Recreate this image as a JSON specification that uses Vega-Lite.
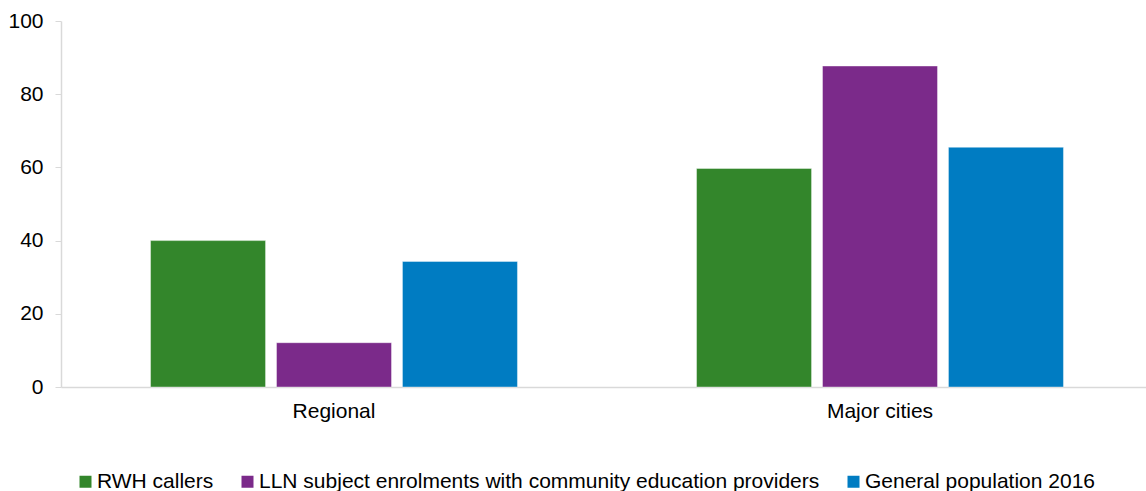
{
  "$schema": "https://vega.github.io/schema/vega-lite/v6.json",
  "autosize": {"type": "none"},
  "padding": {"left": 61, "top": 21, "right": 0, "bottom": 104},
  "width": 1092,
  "height": 366,
  "config": {
    "font": "Liberation Sans",
    "view": {"stroke": null},
    "axis": {"labelFont": "Liberation Sans", "labelColor": "#000000", "labelFontSize": 21, "grid": false, "domainColor": "#D9D9D9", "tickColor": "#D9D9D9", "domainWidth": 1.5}
  },
  "data": {
    "values": [
      {"area": "Regional", "group": "RWH callers", "value": 40.0},
      {"area": "Regional", "group": "LLN subject enrolments with community education providers", "value": 12.1},
      {"area": "Regional", "group": "General population 2016", "value": 34.3},
      {"area": "Major cities", "group": "RWH callers", "value": 59.7},
      {"area": "Major cities", "group": "LLN subject enrolments with community education providers", "value": 87.7},
      {"area": "Major cities", "group": "General population 2016", "value": 65.5}
    ]
  },
  "mark": {"type": "bar", "stroke": "#ffffff", "strokeOpacity": 0.4, "strokeWidth": 1},
  "encoding": {
    "x": {
      "field": "area", "type": "nominal", "sort": ["Regional", "Major cities"],
      "scale": {"paddingInner": 0.328, "paddingOuter": 0.164},
      "axis": {"title": null, "labelAngle": 0, "ticks": false, "labelPadding": 13, "labelFontSize": 21}
    },
    "xOffset": {
      "field": "group", "type": "nominal",
      "sort": ["RWH callers", "LLN subject enrolments with community education providers", "General population 2016"],
      "scale": {"paddingInner": 0.087, "paddingOuter": 0}
    },
    "y": {
      "field": "value", "type": "quantitative",
      "scale": {"domain": [0, 100], "nice": false},
      "axis": {"title": null, "values": [0, 20, 40, 60, 80, 100], "tickSize": 6, "labelPadding": 12, "labelFontSize": 21}
    },
    "color": {
      "field": "group", "type": "nominal",
      "sort": ["RWH callers", "LLN subject enrolments with community education providers", "General population 2016"],
      "scale": {"range": ["#33862B", "#7B2A8A", "#007CC2"]},
      "legend": {
        "title": null, "orient": "none", "direction": "horizontal",
        "legendX": 14, "legendY": 450,
        "symbolType": "square", "symbolSize": 144, "symbolStrokeWidth": 0,
        "labelFontSize": 21, "labelColor": "#000000", "labelOffset": 1,
        "columnPadding": 23, "labelLimit": 800
      }
    }
  }
}
